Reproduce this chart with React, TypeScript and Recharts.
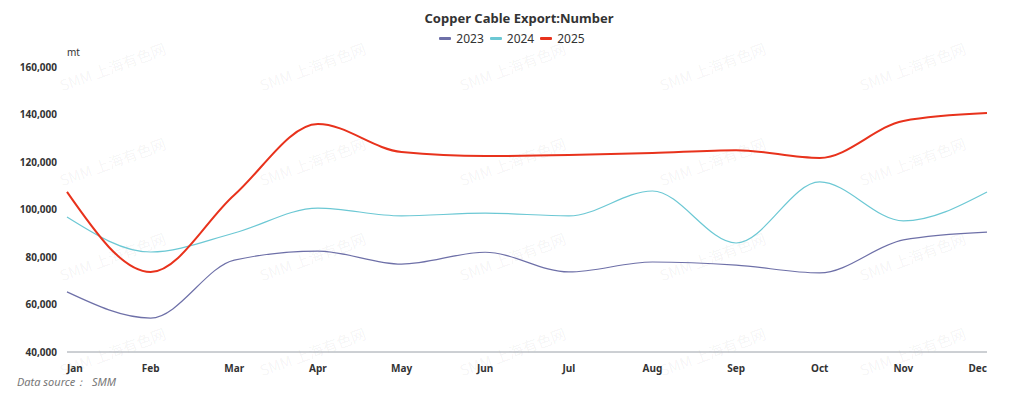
import { LineChart, Line, XAxis, YAxis } from 'recharts';

const months = ['Jan', 'Feb', 'Mar', 'Apr', 'May', 'Jun', 'Jul', 'Aug', 'Sep', 'Oct', 'Nov', 'Dec'];
const y2023 = [65300, 54300, 78700, 82500, 77000, 82000, 73700, 77900, 76600, 73300, 87200, 90500];
const y2024 = [96800, 82100, 90100, 100600, 97300, 98500, 97300, 107800, 85900, 111600, 95200, 107400];
const y2025 = [107400, 73700, 106100, 136000, 124200, 122500, 122900, 123800, 125000, 121700, 137300, 140600];
const yTicks = [40000, 60000, 80000, 100000, 120000, 140000, 160000];

const series = [
  { key: 'y2023', name: '2023', color: '#6e70a8', width: 1.2 },
  { key: 'y2024', name: '2024', color: '#6cc8d4', width: 1.2 },
  { key: 'y2025', name: '2025', color: '#e8321c', width: 2 },
];

const data = months.map((m, i) => ({ month: m, y2023: y2023[i], y2024: y2024[i], y2025: y2025[i] }));

const font = '"Noto Sans", "Open Sans", sans-serif';

function MonthTick(props: any) {
  const { x, y, payload, index } = props;
  const anchor = index === 0 ? 'start' : index === months.length - 1 ? 'end' : 'middle';
  return (
    <text x={x} y={y + 12} textAnchor={anchor} fontSize={10} fontWeight={700} fill="#333" fontFamily={font}>
      {payload.value}
    </text>
  );
}

function LegendBox() {
  return (
    <div style={{ position: 'absolute', top: 30, left: 0, width: 1024, display: 'flex', justifyContent: 'center', gap: 6, fontFamily: font, fontSize: 12, color: '#333' }}>
      {series.map((s) => (
        <div key={s.key} style={{ display: 'flex', alignItems: 'center', gap: 5 }}>
          <span style={{ display: 'inline-block', width: 12, height: 3, background: s.color, borderRadius: 1 }} />
          <span>{s.name}</span>
        </div>
      ))}
    </div>
  );
}

// watermark grid
const marks: { x: number; y: number }[] = [];
for (const y of [85, 180, 275, 370]) {
  for (const x of [60, 260, 460, 660, 860]) marks.push({ x, y });
}

export default function App() {
  return (
    <div style={{ position: 'relative', width: 1024, height: 399, margin: -8, background: '#fff', overflow: 'hidden' }}>
      {marks.map((m, i) => (
        <div
          key={i}
          style={{
            position: 'absolute', left: m.x, top: m.y - 10, fontFamily: '"Noto Sans CJK SC", "Noto Sans", sans-serif', fontSize: 15,
            color: 'rgba(0,0,0,0.05)', transform: 'rotate(-20deg)', transformOrigin: 'left center', whiteSpace: 'nowrap',
          }}
        >
          SMM 上海有色网
        </div>
      ))}
      <div style={{ position: 'absolute', top: 9, left: 0, width: 1038, textAlign: 'center', fontFamily: font, fontSize: 13, fontWeight: 700, color: '#333' }}>
        Copper Cable Export:Number
      </div>
      <LegendBox />
      <div style={{ position: 'absolute', top: 45, left: 67, fontFamily: font, fontSize: 10, color: '#333' }}>mt</div>
      <div style={{ position: 'absolute', top: 374, left: 17, fontFamily: font, fontSize: 11, fontStyle: 'italic', color: '#777', whiteSpace: 'pre' }}>
        Data source：  SMM
      </div>
      <LineChart width={1024} height={399} data={data} margin={{ top: 67, right: 37, bottom: 27, left: 7 }}>
        <XAxis
          dataKey="month"
          height={20}
          tick={<MonthTick />}
          tickLine={false}
          axisLine={{ stroke: '#9aa0a8' }}
          interval={0}
          padding={{ left: 0, right: 0 }}
        />
        <YAxis
          width={60}
          domain={[40000, 160000]}
          ticks={yTicks}
          tickFormatter={(v) => Number(v).toLocaleString('en-US')}
          tick={{ fontSize: 10, fontWeight: 700, fill: '#333', fontFamily: font }}
          tickLine={false}
          axisLine={false}
          tickMargin={4}
        />
        {series.map((s) => (
          <Line
            key={s.key}
            type="monotone"
            dataKey={s.key}
            name={s.name}
            stroke={s.color}
            strokeWidth={s.width}
            dot={false}
            isAnimationActive={false}
          />
        ))}
      </LineChart>
    </div>
  );
}
